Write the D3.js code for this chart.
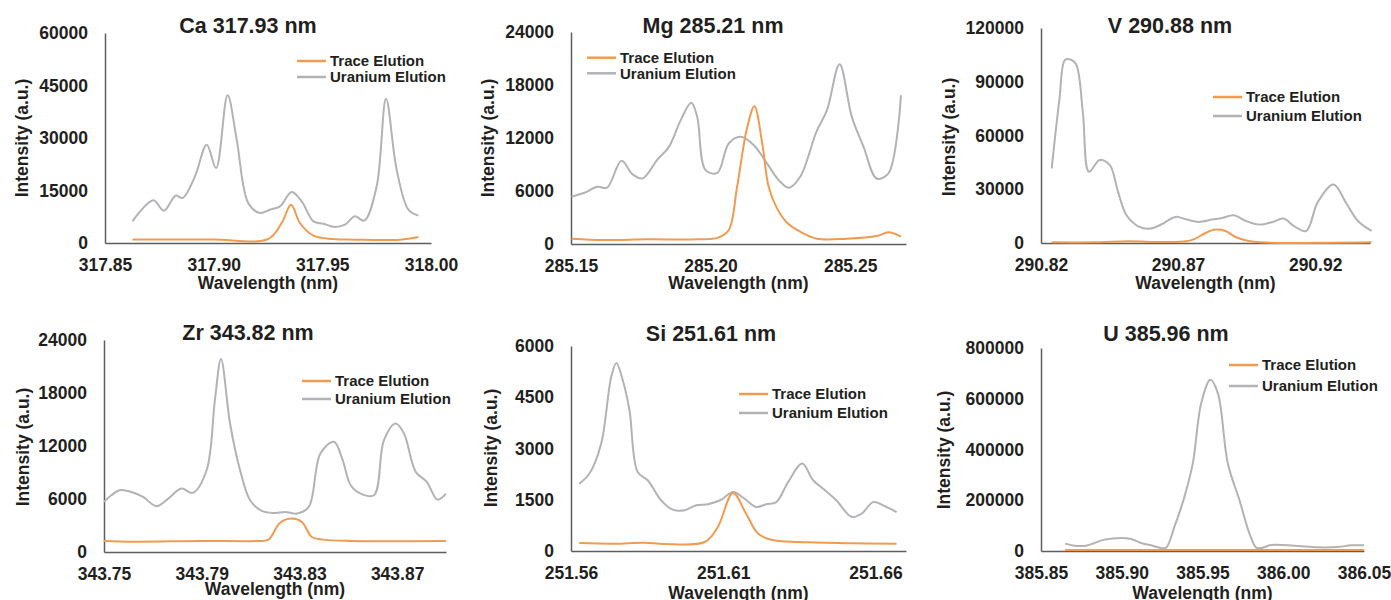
<!DOCTYPE html>
<html>
<head>
<meta charset="utf-8">
<script src="https://cdn.jsdelivr.net/npm/d3@7"></script>
<style>
  body { margin: 0; background: #fff; }
  svg text { font-family: "Liberation Sans", Arial, sans-serif; font-weight: bold; fill: #231f20; }
</style>
</head>
<body>
<div id="chartDiv"></div>
<script>
// series names
var seriesNames = ["Trace Elution", "Uranium Elution"];

// panel titles
var titles = ["Ca 317.93 nm", "Mg 285.21 nm", "V 290.88 nm", "Zr 343.82 nm", "Si 251.61 nm", "U 385.96 nm"];

// x tick labels (nm)
var caTicks = [317.85, 317.90, 317.95, 318.00];
var mgTicks = [285.15, 285.20, 285.25];
var vTicks = [290.82, 290.87, 290.92];
var zrTicks = [343.75, 343.79, 343.83, 343.87];
var siTicks = [251.56, 251.61, 251.66];
var uTicks = [385.85, 385.90, 385.95, 386.00, 386.05];

// y ticks
var caYTicks = [0, 15000, 30000, 45000, 60000];
var mgYTicks = [0, 6000, 12000, 18000, 24000];
var vYTicks = [0, 30000, 60000, 90000, 120000];
var zrYTicks = [0, 6000, 12000, 18000, 24000];
var siYTicks = [0, 1500, 3000, 4500, 6000];
var uYTicks = [0, 200000, 400000, 600000, 800000];

// [wavelength, intensity]
var caTrace = [[317.8626, 1000], [317.878, 980], [317.90, 1000], [317.925, 1140], [317.9313, 5710], [317.9356, 10950],
  [317.9397, 5710], [317.9459, 2100], [317.955, 1140], [317.965, 950], [317.9857, 950], [317.9942, 1710]];
var caUranium = [[317.8626, 6190], [317.8722, 12190], [317.8771, 9240], [317.8825, 13520], [317.8857, 12860],
  [317.8914, 19050], [317.8968, 28100], [317.9011, 21430], [317.9064, 42190], [317.9106, 29520], [317.9159, 11430],
  [317.9213, 8570], [317.9259, 9520], [317.9305, 10480], [317.9359, 14570], [317.9405, 11900], [317.9459, 6190],
  [317.9505, 5520], [317.9558, 4570], [317.9604, 5240], [317.965, 7620], [317.9693, 6380], [317.975, 16190],
  [317.9793, 41240], [317.9842, 20950], [317.9896, 9520], [317.9942, 7810]];

var mgTrace = [[285.1502, 600], [285.1619, 450], [285.1774, 530], [285.1952, 530], [285.2027, 720], [285.2065, 1580],
  [285.2095, 6480], [285.2129, 12890], [285.2157, 15600], [285.2185, 11380], [285.2208, 6480], [285.2238, 4030],
  [285.2274, 2410], [285.2321, 1390], [285.2381, 600], [285.2488, 600], [285.2595, 900], [285.2637, 1320], [285.2682, 830]];
var mgUranium = [[285.1502, 5350], [285.1548, 5800], [285.1595, 6480], [285.1629, 6370], [285.1681, 9420],
  [285.172, 7910], [285.1756, 7420], [285.181, 9570], [285.1851, 11000], [285.1893, 14020], [285.1931, 15980],
  [285.1952, 14400], [285.1982, 8360], [285.2024, 8060], [285.2065, 11380], [285.2107, 12130], [285.2155, 11190],
  [285.2202, 9120], [285.2244, 7230], [285.228, 6370], [285.2321, 7610], [285.2379, 12700], [285.2417, 15150],
  [285.2462, 20350], [285.2506, 14390], [285.2548, 11000], [285.2595, 7420], [285.2637, 7990], [285.2682, 16840]];

var vTrace = [[290.8239, 370], [290.84, 400], [290.8518, 930], [290.864, 560], [290.873, 930], [290.8763, 2430],
  [290.88, 5600], [290.8836, 7470], [290.8873, 6720], [290.891, 3360], [290.8953, 1310], [290.90, 370], [290.9406, 370]];
var vUranium = [[290.8239, 41620], [290.8267, 79880], [290.8288, 102280], [290.831, 102280], [290.8329, 99480],
  [290.8353, 72410], [290.8375, 39750], [290.8414, 46290], [290.8451, 43490], [290.8481, 28560], [290.8512, 15490],
  [290.8555, 9330], [290.8598, 8030], [290.864, 10450], [290.869, 14560], [290.8732, 13060], [290.8775, 11760],
  [290.8824, 13060], [290.8861, 14000], [290.8904, 15490], [290.8947, 12320], [290.8996, 10260], [290.9045, 11760],
  [290.9084, 13620], [290.9124, 9330], [290.9167, 6720], [290.921, 22960], [290.9267, 32660], [290.9314, 22020],
  [290.9357, 12130], [290.9406, 6720]];

var zrTrace = [[343.75, 1250], [343.762, 1170], [343.79, 1250], [343.8125, 1250], [343.8173, 1400], [343.822, 3290],
  [343.8269, 3780], [343.831, 3400], [343.8351, 1700], [343.8399, 1400], [343.851, 1250], [343.89, 1250]];
var zrUranium = [[343.75, 5670], [343.753, 6420], [343.7564, 6990], [343.7612, 6800], [343.766, 6240], [343.7715, 5180],
  [343.7763, 6050], [343.7817, 7180], [343.7863, 6690], [343.792, 9260], [343.7954, 17200], [343.7979, 21840],
  [343.8016, 14550], [343.8057, 9260], [343.8098, 5860], [343.8146, 4650], [343.8194, 4420], [343.8242, 4540],
  [343.829, 4350], [343.8338, 5100], [343.8386, 11150], [343.8441, 12470], [343.8475, 10580], [343.851, 7560],
  [343.8551, 6610], [343.8605, 6420], [343.8646, 12660], [343.8694, 14550], [343.8728, 13420], [343.8776, 9070],
  [343.8821, 7940], [343.8865, 5930], [343.89, 6610]];

var siTrace = [[251.5627, 234], [251.5742, 215], [251.5841, 244], [251.5906, 205], [251.6039, 263], [251.6082, 702],
  [251.6132, 1700], [251.6175, 1090], [251.6214, 510], [251.6258, 330], [251.6346, 263], [251.64, 250],
  [251.651, 230], [251.6669, 215]];
var siUranium = [[251.5627, 1970], [251.566, 2260], [251.5699, 3140], [251.5732, 5090], [251.5749, 5500], [251.577, 5000],
  [251.5792, 4120], [251.5819, 2310], [251.5852, 2070], [251.5896, 1480], [251.5934, 1210], [251.5973, 1190],
  [251.6011, 1340], [251.605, 1370], [251.6093, 1500], [251.6132, 1730], [251.617, 1530], [251.6208, 1290],
  [251.6241, 1370], [251.6274, 1430], [251.6313, 2020], [251.6359, 2560], [251.6395, 2070], [251.6434, 1780],
  [251.6472, 1480], [251.6521, 1000], [251.6554, 1090], [251.6592, 1430], [251.6631, 1310], [251.6669, 1140]];

var uTrace = [[385.8649, 3500], [385.90, 3500], [385.95, 3800], [386.00, 3500], [386.05, 3500]];
var uUranium = [[385.8649, 29000], [385.8707, 21100], [385.8779, 21100], [385.8893, 44800], [385.8996, 51400],
  [385.9058, 47400], [385.912, 31600], [385.9182, 22400], [385.9244, 11900], [385.9275, 13200], [385.9326, 94900],
  [385.9388, 213400], [385.944, 345200], [385.9492, 582300], [385.9549, 674600], [385.9595, 621900], [385.9657, 345200],
  [385.9729, 200300], [385.9791, 68500], [385.9833, 13200], [385.9864, 11900], [385.9926, 23700], [386.007, 21100],
  [386.0215, 14500], [386.0339, 15800], [386.0421, 22400], [386.05, 22400]];

var panels = [
  { title: titles[0], trace: caTrace, uranium: caUranium, xTicks: caTicks, yTicks: caYTicks, xMax: 318.00,
    left: 105, top: 33, bottom: 243, right: 431, titleX: 248, titleY: 25, legX: 297, legY: [61, 77], yTitleX: 22, yTitleY: 138, xTitleDy: 40 },
  { title: titles[1], trace: mgTrace, uranium: mgUranium, xTicks: mgTicks, yTicks: mgYTicks, xMax: 285.27,
    left: 571, top: 32, bottom: 244, right: 906, titleX: 713, titleY: 25, legX: 587, legY: [57.7, 73.3], yTitleX: 488, yTitleY: 138, xTitleDy: 39 },
  { title: titles[2], trace: vTrace, uranium: vUranium, xTicks: vTicks, yTicks: vYTicks, xMax: 290.94,
    left: 1041, top: 28, bottom: 243, right: 1370, titleX: 1170, titleY: 25, legX: 1213, legY: [97, 116], yTitleX: 949, yTitleY: 137, xTitleDy: 40 },
  { title: titles[3], trace: zrTrace, uranium: zrUranium, xTicks: zrTicks, yTicks: zrYTicks, xMax: 343.89,
    left: 104, top: 340, bottom: 552, right: 446, titleX: 248, titleY: 332, legX: 302, legY: [381, 399], yTitleX: 23, yTitleY: 447, xTitleDy: 37 },
  { title: titles[4], trace: siTrace, uranium: siUranium, xTicks: siTicks, yTicks: siYTicks, xMax: 251.67,
    left: 571, top: 346, bottom: 551, right: 906, titleX: 711, titleY: 333, legX: 739, legY: [394, 413], yTitleX: 491, yTitleY: 448, xTitleDy: 42 },
  { title: titles[5], trace: uTrace, uranium: uUranium, xTicks: uTicks, yTicks: uYTicks, xMax: 386.05,
    left: 1041, top: 348, bottom: 551, right: 1364, titleX: 1166, titleY: 333, legX: 1229, legY: [365, 386], yTitleX: 944, yTitleY: 450, xTitleDy: 42 }
];

var orange = "#f09b50";
var gray = "#b2b3b7";
var axisColor = "#5e5e5e";

var svg = d3.select("#chartDiv").append("svg")
  .attr("width", 1391)
  .attr("height", 600);

panels.forEach(function (p) {
  var x = d3.scaleLinear().domain([p.xTicks[0], p.xMax]).range([p.left, p.right]);
  var y = d3.scaleLinear().domain([0, p.yTicks[p.yTicks.length - 1]]).range([p.bottom, p.top]);

  var line = d3.line()
    .x(function (d) { return x(d[0]); })
    .y(function (d) { return y(d[1]); })
    .curve(d3.curveCatmullRom.alpha(0.5));

  var g = svg.append("g");

  // axes
  var xAxis = g.append("g")
    .attr("transform", "translate(0," + p.bottom + ")")
    .call(d3.axisBottom(x).tickValues(p.xTicks).tickSize(0).tickPadding(16)
      .tickFormat(function (d) { return d.toFixed(2); }));
  var yAxis = g.append("g")
    .attr("transform", "translate(" + p.left + ",0)")
    .call(d3.axisLeft(y).tickValues(p.yTicks).tickSize(0).tickPadding(17)
      .tickFormat(function (d) { return d; }));

  [xAxis, yAxis].forEach(function (a) {
    a.select(".domain").attr("stroke", axisColor).attr("stroke-width", 1.5);
    a.selectAll("text").style("font-size", "17.5px").attr("fill", "#231f20");
  });

  // series
  g.append("path").datum(p.uranium)
    .attr("fill", "none").attr("stroke", gray).attr("stroke-width", 2)
    .attr("d", line);
  g.append("path").datum(p.trace)
    .attr("fill", "none").attr("stroke", orange).attr("stroke-width", 2)
    .attr("d", line);

  // title
  g.append("text")
    .attr("x", p.titleX).attr("y", p.titleY).attr("dy", "0.35em")
    .attr("text-anchor", "middle")
    .style("font-size", "21.5px")
    .text(p.title);

  // axis titles
  g.append("text")
    .attr("x", (p.left + p.right) / 2).attr("y", p.bottom + p.xTitleDy).attr("dy", "0.35em")
    .attr("text-anchor", "middle")
    .style("font-size", "17.5px")
    .text("Wavelength (nm)");
  g.append("text")
    .attr("transform", "translate(" + p.yTitleX + "," + p.yTitleY + ") rotate(-90)")
    .attr("dy", "0.35em")
    .attr("text-anchor", "middle")
    .style("font-size", "17.5px")
    .text("Intensity (a.u.)");

  // legend
  [orange, gray].forEach(function (c, i) {
    g.append("line")
      .attr("x1", p.legX).attr("x2", p.legX + 29)
      .attr("y1", p.legY[i]).attr("y2", p.legY[i])
      .attr("stroke", c).attr("stroke-width", 2.5);
    g.append("text")
      .attr("x", p.legX + 33).attr("y", p.legY[i]).attr("dy", "0.35em")
      .style("font-size", "15px")
      .text(seriesNames[i]);
  });
});
</script>
</body>
</html>
